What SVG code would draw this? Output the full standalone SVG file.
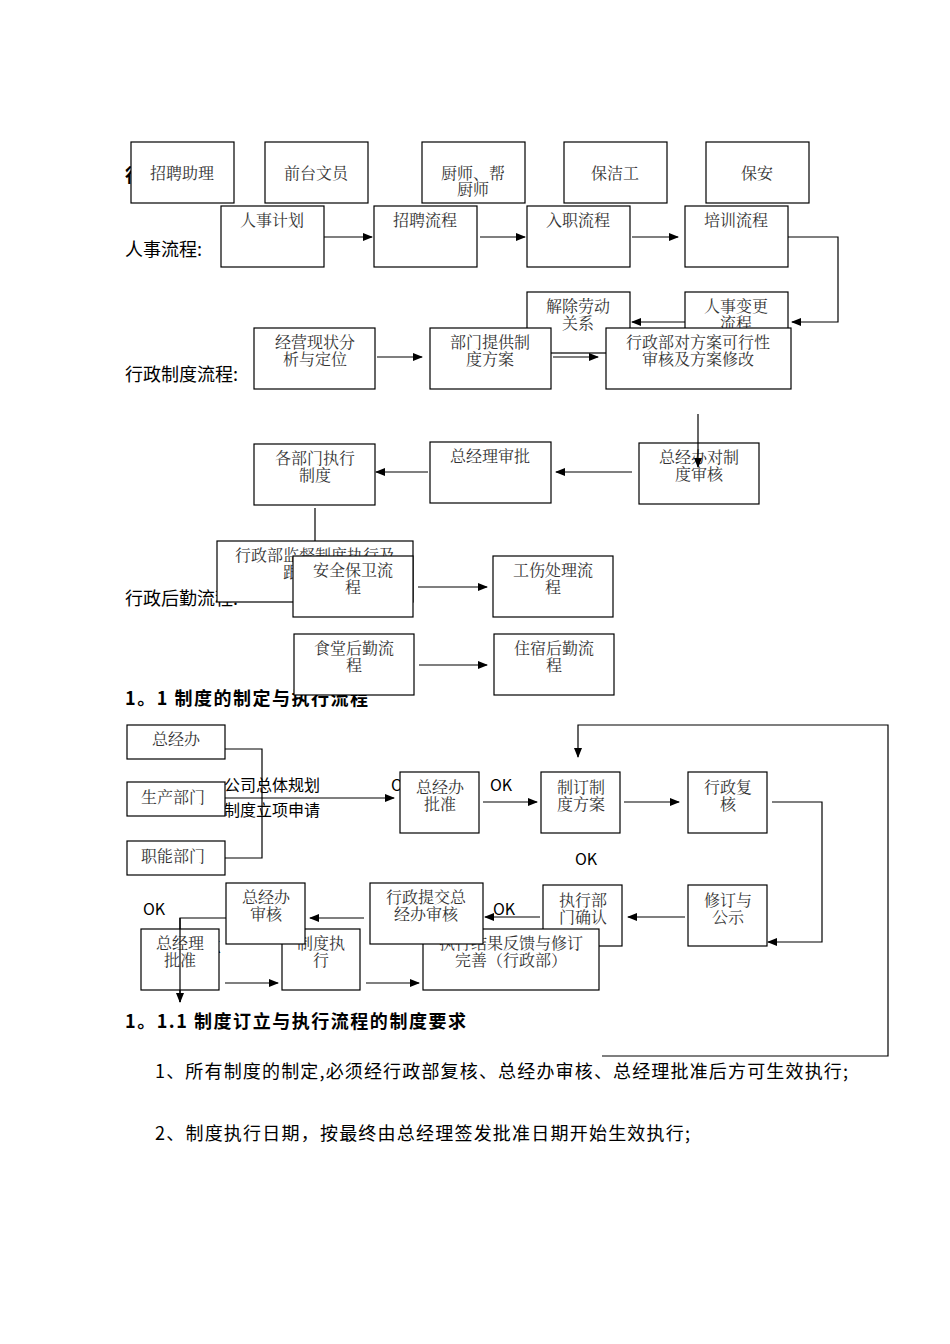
<svg xmlns="http://www.w3.org/2000/svg" width="950" height="1344" viewBox="0 0 950 1344">
<style>
.b{fill:#fff;stroke:#000;stroke-width:1.2}
.t{font-family:"Noto Serif CJK SC","Noto Sans CJK SC",serif;font-size:16px;text-anchor:middle;fill:#333}
.l{font-family:"Noto Sans CJK SC",sans-serif;font-size:18px;fill:#000}
.h{font-family:"Noto Sans CJK SC",sans-serif;font-size:18px;font-weight:bold;fill:#000}
.m{font-family:"Noto Sans CJK SC",sans-serif;font-size:16px;fill:#000}
.c line,.c polyline{stroke:#000;stroke-width:1.2;fill:none}
</style>
<defs><marker id="a" markerWidth="10" markerHeight="8" refX="9" refY="4" orient="auto" markerUnits="userSpaceOnUse"><path d="M0,0L10,4L0,8z" fill="#000"/></marker></defs>
<rect width="950" height="1344" fill="#fff"/>
<text class="h" x="125" y="182">行政整体流程</text>
<text class="l" x="125" y="256">人事流程:</text>
<text class="l" x="125" y="381">行政制度流程:</text>
<text class="l" x="125" y="605">行政后勤流程:</text>
<text class="h" x="125" y="705" textLength="243">1。1 制度的制定与执行流程</text>
<text class="m" x="224" y="791">公司总体规划</text>
<text class="m" x="224" y="816">制度立项申请</text>
<text class="m" x="391" y="791">OK</text>
<text class="m" x="490" y="791">OK</text>
<text class="m" x="575" y="865">OK</text>
<text class="m" x="493" y="915">OK</text>
<text class="m" x="143" y="915">OK</text>
<text class="m" x="210" y="953">K</text>
<g class="c">
<line x1="324" y1="237" x2="372" y2="237" marker-end="url(#a)"/>
<line x1="480" y1="237" x2="525" y2="237" marker-end="url(#a)"/>
<line x1="632" y1="237" x2="678" y2="237" marker-end="url(#a)"/>
<polyline points="788,237 838,237 838,322 792,322" marker-end="url(#a)"/>
<line x1="685" y1="322" x2="632" y2="322" marker-end="url(#a)"/>
<line x1="377" y1="357" x2="422" y2="357" marker-end="url(#a)"/>
<line x1="553" y1="357" x2="598" y2="357" marker-end="url(#a)"/>
<line x1="632" y1="472" x2="556" y2="472" marker-end="url(#a)"/>
<line x1="428" y1="472" x2="376" y2="472" marker-end="url(#a)"/>
<line x1="315" y1="508" x2="315" y2="560"/>
<line x1="418" y1="587" x2="487" y2="587" marker-end="url(#a)"/>
<line x1="419" y1="665" x2="487" y2="665" marker-end="url(#a)"/>
<polyline points="225,749 262,749 262,858 225,858"/>
<line x1="225" y1="798" x2="394" y2="798" marker-end="url(#a)"/>
<line x1="483" y1="802" x2="537" y2="802" marker-end="url(#a)"/>
<line x1="624" y1="802" x2="679" y2="802" marker-end="url(#a)"/>
<polyline points="772,802 822,802 822,942 768,942" marker-end="url(#a)"/>
<polyline points="602,1056 888,1056 888,725 578,725 578,757" marker-end="url(#a)"/>
<line x1="685" y1="917" x2="628" y2="917" marker-end="url(#a)"/>
<line x1="540" y1="917" x2="485" y2="917" marker-end="url(#a)"/>
<line x1="364" y1="918" x2="310" y2="918" marker-end="url(#a)"/>
<polyline points="226,918 180,918 180,1002" marker-end="url(#a)"/>
<line x1="225" y1="983" x2="278" y2="983" marker-end="url(#a)"/>
<line x1="366" y1="983" x2="419" y2="983" marker-end="url(#a)"/>
</g>
<g id="n1"><rect class="b" x="131" y="142" width="103" height="61"/><text class="t" x="182" y="179">招聘助理</text></g>
<g id="n2"><rect class="b" x="265" y="142" width="103" height="61"/><text class="t" x="316" y="179">前台文员</text></g>
<g id="n3"><rect class="b" x="422" y="142" width="103" height="61"/><text class="t" x="473" y="179">厨师、帮</text><text class="t" x="473" y="195">厨师</text></g>
<g id="n4"><rect class="b" x="564" y="142" width="103" height="61"/><text class="t" x="615" y="179">保洁工</text></g>
<g id="n5"><rect class="b" x="706" y="142" width="103" height="61"/><text class="t" x="757" y="179">保安</text></g>
<g id="n6"><rect class="b" x="221" y="206" width="103" height="61"/><text class="t" x="272" y="226">人事计划</text></g>
<g id="n7"><rect class="b" x="374" y="206" width="103" height="61"/><text class="t" x="425" y="226">招聘流程</text></g>
<g id="n8"><rect class="b" x="527" y="206" width="103" height="61"/><text class="t" x="578" y="226">入职流程</text></g>
<g id="n9"><rect class="b" x="685" y="206" width="103" height="61"/><text class="t" x="736" y="226">培训流程</text></g>
<g id="n10"><rect class="b" x="527" y="292" width="103" height="61"/><text class="t" x="578" y="312">解除劳动</text><text class="t" x="578" y="329">关系</text></g>
<g id="n11"><rect class="b" x="685" y="292" width="103" height="61"/><text class="t" x="736" y="312">人事变更</text><text class="t" x="736" y="329">流程</text></g>
<g id="n12"><rect class="b" x="254" y="328" width="121" height="61"/><text class="t" x="315" y="348">经营现状分</text><text class="t" x="315" y="365">析与定位</text></g>
<g id="n13"><rect class="b" x="430" y="328" width="121" height="61"/><text class="t" x="490" y="348">部门提供制</text><text class="t" x="490" y="365">度方案</text></g>
<g id="n14"><rect class="b" x="606" y="328" width="185" height="61"/><text class="t" x="698" y="348">行政部对方案可行性</text><text class="t" x="698" y="365">审核及方案修改</text></g>
<g id="n15"><rect class="b" x="254" y="444" width="121" height="61"/><text class="t" x="315" y="464">各部门执行</text><text class="t" x="315" y="481">制度</text></g>
<g id="n16"><rect class="b" x="430" y="442" width="121" height="61"/><text class="t" x="490" y="462">总经理审批</text></g>
<g id="n17"><rect class="b" x="639" y="443" width="120" height="61"/><text class="t" x="699" y="463">总经办对制</text><text class="t" x="699" y="480">度审核</text></g>
<g class="c"><line x1="698" y1="414" x2="698" y2="467" marker-end="url(#a)"/></g>
<g id="n18"><rect class="b" x="217" y="541" width="196" height="61"/><text class="t" x="315" y="561">行政部监督制度执行及</text><text class="t" x="315" y="578">跟进制度</text></g>
<g id="n19"><rect class="b" x="293" y="556" width="120" height="61"/><text class="t" x="353" y="576">安全保卫流</text><text class="t" x="353" y="593">程</text></g>
<g id="n20"><rect class="b" x="493" y="556" width="120" height="61"/><text class="t" x="553" y="576">工伤处理流</text><text class="t" x="553" y="593">程</text></g>
<g id="n21"><rect class="b" x="294" y="634" width="120" height="61"/><text class="t" x="354" y="654">食堂后勤流</text><text class="t" x="354" y="671">程</text></g>
<g id="n22"><rect class="b" x="494" y="634" width="120" height="61"/><text class="t" x="554" y="654">住宿后勤流</text><text class="t" x="554" y="671">程</text></g>
<g id="n23"><rect class="b" x="127" y="725" width="98" height="34"/><text class="t" x="176" y="745">总经办</text></g>
<g id="n24"><rect class="b" x="127" y="782" width="98" height="34"/><text class="t" x="173" y="803">生产部门</text></g>
<g id="n25"><rect class="b" x="127" y="841" width="98" height="34"/><text class="t" x="173" y="862">职能部门</text></g>
<g id="n26"><rect class="b" x="400" y="772" width="79" height="61"/><text class="t" x="440" y="793">总经办</text><text class="t" x="440" y="810">批准</text></g>
<g id="n27"><rect class="b" x="541" y="772" width="79" height="61"/><text class="t" x="581" y="793">制订制</text><text class="t" x="581" y="810">度方案</text></g>
<g id="n28"><rect class="b" x="688" y="772" width="79" height="61"/><text class="t" x="728" y="793">行政复</text><text class="t" x="728" y="810">核</text></g>
<g id="n29"><rect class="b" x="688" y="885" width="79" height="61"/><text class="t" x="728" y="906">修订与</text><text class="t" x="728" y="923">公示</text></g>
<g id="n30"><rect class="b" x="543" y="885" width="79" height="61"/><text class="t" x="583" y="906">执行部</text><text class="t" x="583" y="923">门确认</text></g>
<g id="n31"><rect class="b" x="423" y="929" width="176" height="61"/><text class="t" x="511" y="949">执行结果反馈与修订</text><text class="t" x="511" y="966">完善（行政部）</text></g>
<g id="n32"><rect class="b" x="370" y="883" width="113" height="61"/><text class="t" x="426" y="903">行政提交总</text><text class="t" x="426" y="920">经办审核</text></g>
<g id="n33"><rect class="b" x="141" y="929" width="78" height="61"/><text class="t" x="180" y="949">总经理</text><text class="t" x="180" y="966">批准</text></g>
<g id="n34"><rect class="b" x="282" y="929" width="78" height="61"/><text class="t" x="321" y="949">制度执</text><text class="t" x="321" y="966">行</text></g>
<g id="n35"><rect class="b" x="226" y="883" width="79" height="61"/><text class="t" x="266" y="903">总经办</text><text class="t" x="266" y="920">审核</text></g>
<line x1="180" y1="918" x2="180" y2="1002" stroke="#000" stroke-width="1.2"/>
<text class="h" x="125" y="1028" textLength="341">1。1.1 制度订立与执行流程的制度要求</text>
<text class="l" x="155" y="1078" textLength="693">1、所有制度的制定,必须经行政部复核、总经办审核、总经理批准后方可生效执行;</text>
<text class="l" x="155" y="1140" textLength="535">2、制度执行日期，按最终由总经理签发批准日期开始生效执行;</text>
</svg>
